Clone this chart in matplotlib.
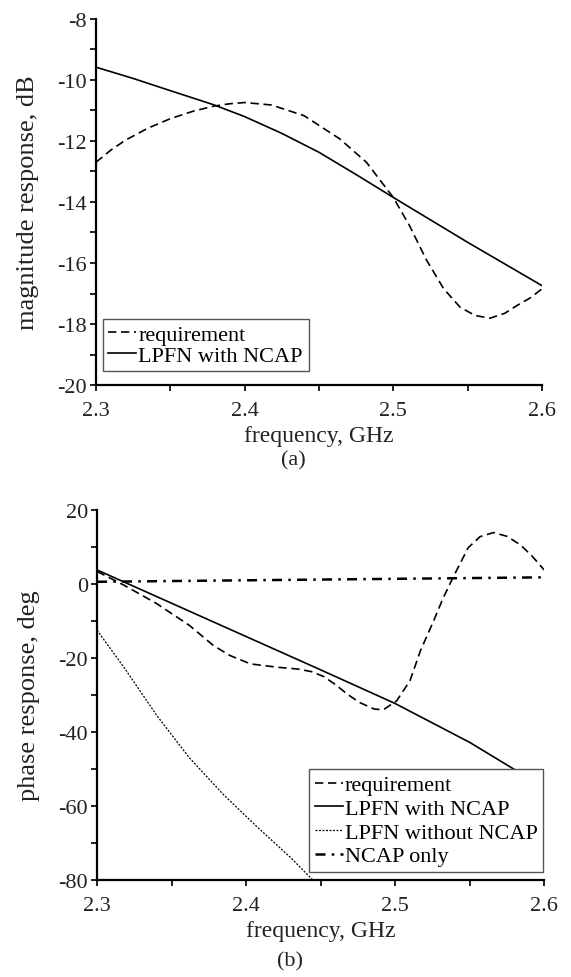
import numpy as np
import matplotlib
matplotlib.use("Agg")
import matplotlib.pyplot as plt
from matplotlib.ticker import MultipleLocator, FormatStrFormatter

plt.rcParams['font.family'] = ['Liberation Serif', 'DejaVu Serif']
plt.rcParams['axes.unicode_minus'] = False

# (a) magnitude response
f_req_mag = [2.300, 2.310, 2.320, 2.335, 2.350, 2.365, 2.379, 2.390, 2.400, 2.418,
             2.440, 2.464, 2.482, 2.500, 2.511, 2.522, 2.534, 2.545, 2.555, 2.565,
             2.575, 2.583, 2.592, 2.600]
req_mag = [-12.70, -12.30, -11.97, -11.58, -11.27, -11.03, -10.86, -10.78, -10.74, -10.82,
           -11.17, -11.93, -12.70, -13.85, -14.78, -15.87, -16.85, -17.45, -17.72, -17.81,
           -17.65, -17.40, -17.15, -16.85]
f_lpfn_mag = [2.30, 2.325, 2.35, 2.379, 2.40, 2.425, 2.45, 2.475, 2.50, 2.55, 2.60]
lpfn_mag = [-9.58, -9.95, -10.35, -10.81, -11.20, -11.75, -12.37, -13.10, -13.85,
            -15.32, -16.74]

# (b) phase response
f_req_ph = [2.300, 2.318, 2.340, 2.362, 2.378, 2.389, 2.403, 2.421, 2.435, 2.444,
            2.452, 2.460, 2.468, 2.476, 2.486, 2.492, 2.501, 2.510, 2.517, 2.526,
            2.532, 2.539, 2.549, 2.557, 2.566, 2.575, 2.584, 2.592, 2.600]
req_ph = [3.4, -0.3, -5.3, -11.2, -16.6, -19.3, -21.6, -22.5, -23.0, -23.7,
          -25.0, -27.2, -29.8, -32.0, -33.8, -34.0, -31.6, -26.1, -18.0, -9.8,
          -4.0, 1.9, 9.8, 12.8, 13.9, 12.9, 10.6, 7.5, 3.8]
f_with = [2.30, 2.35, 2.40, 2.45, 2.50, 2.55, 2.60]
with_ph = [3.8, -5.2, -14.2, -23.2, -32.3, -42.8, -55.0]
f_without = [2.300, 2.318, 2.340, 2.362, 2.385, 2.407, 2.430, 2.446]
without_ph = [-12.5, -22.5, -35.5, -47.0, -57.0, -65.5, -74.0, -80.5]
f_ncap = [2.3, 2.4, 2.5, 2.6]
ncap_ph = [0.6, 1.0, 1.4, 1.8]

fig = plt.figure(figsize=(5.71, 9.78), dpi=100)
ax1 = fig.add_axes([0.168, 0.6053, 0.781, 0.3743])
ax2 = fig.add_axes([0.170, 0.0992, 0.783, 0.3783])

dash = (5, 2.8)


def style(ax):
    for s in ['top', 'right']:
        ax.spines[s].set_visible(False)
    for s in ['left', 'bottom']:
        ax.spines[s].set_linewidth(1.6)
    ax.tick_params(which='both', direction='out', length=4.5, width=1.4,
                   labelsize=16, colors='#222222')
    ax.tick_params(axis='x', pad=7)
    ax.tick_params(axis='y', pad=2)
    ax.xaxis.set_major_locator(MultipleLocator(0.1))
    ax.xaxis.set_minor_locator(MultipleLocator(0.05))
    ax.xaxis.set_major_formatter(FormatStrFormatter('%.1f'))
    ax.set_xlim(2.3, 2.6)
    ax.set_xlabel('frequency, GHz', fontsize=17, va='top', color='#222222')
    ax.xaxis.set_label_coords(0.5, -0.108)


leg_kw = dict(fontsize=16, frameon=True, fancybox=False, edgecolor='#555555',
              framealpha=1, handlelength=1.25, handletextpad=0.1,
              borderpad=0.25, borderaxespad=0)

ax1.plot(f_req_mag, req_mag, color='k', lw=1.2, dashes=dash, label='requirement')
ax1.plot(f_lpfn_mag, lpfn_mag, color='k', lw=1.2, label='LPFN with NCAP')
style(ax1)
ax1.set_ylim(-20, -8)
ax1.yaxis.set_major_locator(MultipleLocator(2))
ax1.yaxis.set_minor_locator(MultipleLocator(1))
ax1.set_ylabel('magnitude response, dB', fontsize=19, color='#222222')
ax1.yaxis.set_label_coords(-0.128, 0.5)
ax1.legend(loc='lower left', bbox_to_anchor=(0.0157, 0.038),
           labelspacing=0.0, **leg_kw)

ax2.plot(f_req_ph, req_ph, color='k', lw=1.2, dashes=dash, label='requirement')
ax2.plot(f_with, with_ph, color='k', lw=1.2, label='LPFN with NCAP')
ax2.plot(f_without, without_ph, color='k', lw=0.9, dashes=(1.6, 1.2),
         label='LPFN without NCAP')
ax2.plot(f_ncap, ncap_ph, color='k', lw=1.8, dashes=(4, 2.5, 1, 2.5),
         label='NCAP only')
style(ax2)
ax2.set_ylim(-80, 20)
ax2.yaxis.set_major_locator(MultipleLocator(20))
ax2.yaxis.set_minor_locator(MultipleLocator(10))
ax2.set_ylabel('phase response, deg', fontsize=19, color='#222222')
ax2.yaxis.set_label_coords(-0.128, 0.5)
ax2.legend(loc='lower right', bbox_to_anchor=(0.998, 0.022),
           labelspacing=0.14, **leg_kw)

fig.text(293 / 571, 1 - 461 / 978, '(a)', fontsize=16, ha='center', va='center',
         color='#222222')
fig.text(290 / 571, 1 - 962 / 978, '(b)', fontsize=16, ha='center', va='center',
         color='#222222')

fig.savefig('out.png', dpi=100)
